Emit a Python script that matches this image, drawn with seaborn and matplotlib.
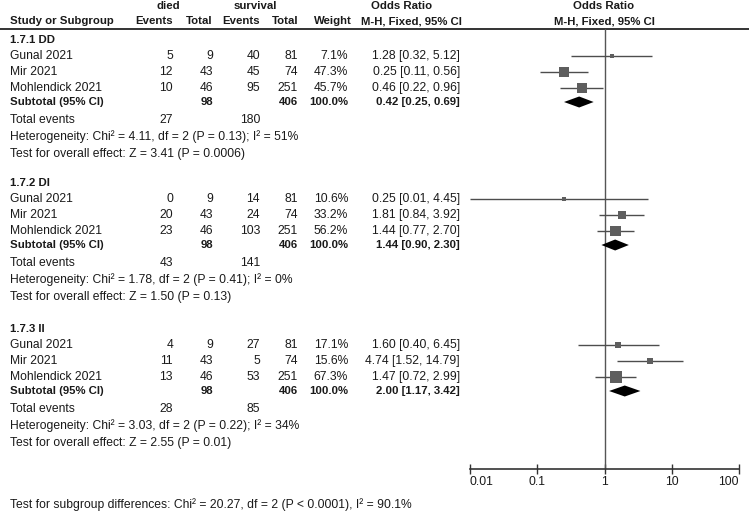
import matplotlib

matplotlib.use("Agg")
import matplotlib.pyplot as plt
import numpy as np
import pandas as pd
import seaborn as sns

# ---- data ----
group_names = ["1.7.1 DD", "1.7.2 DI", "1.7.3 II"]
study_names = ["Gunal 2021", "Mir 2021", "Mohlendick 2021"]
died_events = [[5, 12, 10], [0, 20, 23], [4, 11, 13]]
died_total = [9, 43, 46]
surv_events = [[40, 45, 95], [14, 24, 103], [27, 5, 53]]
surv_total = [81, 74, 251]
weights = [[7.1, 47.3, 45.7], [10.6, 33.2, 56.2], [17.1, 15.6, 67.3]]
odds = [[1.28, 0.25, 0.46], [0.25, 1.81, 1.44], [1.60, 4.74, 1.47]]
ci_low = [[0.32, 0.11, 0.22], [0.01, 0.84, 0.77], [0.40, 1.52, 0.72]]
ci_high = [[5.12, 0.56, 0.96], [4.45, 3.92, 2.70], [6.45, 14.79, 2.99]]
sub_died_total = [98, 98, 98]
sub_surv_total = [406, 406, 406]
sub_odds = [0.42, 1.44, 2.00]
sub_low = [0.25, 0.90, 1.17]
sub_high = [0.69, 2.30, 3.42]
total_died = [27, 43, 28]
total_surv = [180, 141, 85]
het_text = [
    "Heterogeneity: Chi² = 4.11, df = 2 (P = 0.13); I² = 51%",
    "Heterogeneity: Chi² = 1.78, df = 2 (P = 0.41); I² = 0%",
    "Heterogeneity: Chi² = 3.03, df = 2 (P = 0.22); I² = 34%",
]
effect_text = [
    "Test for overall effect: Z = 3.41 (P = 0.0006)",
    "Test for overall effect: Z = 1.50 (P = 0.13)",
    "Test for overall effect: Z = 2.55 (P = 0.01)",
]
footer_text = "Test for subgroup differences: Chi² = 20.27, df = 2 (P < 0.0001), I² = 90.1%"
tick_values = [0.01, 0.1, 1, 10, 100]
tick_labels = ["0.01", "0.1", "1", "10", "100"]

# ---- layout (pixels, top-left origin) ----
W, H = 749, 511
group_top = [40, 183, 329]
row_offsets = [16, 32, 48]
sub_off, tot_off, het_off, eff_off = 62, 80, 97, 114
col_died_ev, col_died_tot, col_surv_ev, col_surv_tot, col_weight, col_or = 173, 213, 260, 298, 348, 460
left_x = 10
plot_left, plot_right, header_line, axis_y = 470, 739, 29, 469

TEXT = "#1a1a1a"
FS = 8.75
FS_BOLD = 8.2

sns.set_theme(style="white")
plt.rcParams["font.family"] = ["Liberation Sans", "DejaVu Sans"]

rows = []
for g, gname in enumerate(group_names):
    for i, sname in enumerate(study_names):
        rows.append({
            "group": gname, "study": sname, "y": group_top[g] + row_offsets[i],
            "or": odds[g][i], "lo": ci_low[g][i], "hi": ci_high[g][i], "weight": weights[g][i],
        })
studies = pd.DataFrame(rows)

fig = plt.figure(figsize=(W / 100, H / 100), dpi=100)
tab = fig.add_axes([0, 0, 1, 1])
tab.set_xlim(0, W)
tab.set_ylim(H, 0)
tab.axis("off")


def put(x, y, s, ha="left", bold=False):
    tab.text(x, y, s, ha=ha, va="center", fontsize=FS_BOLD if bold else FS, color=TEXT,
             fontweight="bold" if bold else "normal")


# headers
put(168, 6, "died", ha="center", bold=True)
put(255, 6, "survival", ha="center", bold=True)
put(402, 6, "Odds Ratio", ha="center", bold=True)
put(604, 6, "Odds Ratio", ha="center", bold=True)
put(left_x, 21, "Study or Subgroup", bold=True)
put(col_died_ev, 21, "Events", ha="right", bold=True)
put(col_died_tot, 21, "Total", ha="right", bold=True)
put(col_surv_ev, 21, "Events", ha="right", bold=True)
put(col_surv_tot, 21, "Total", ha="right", bold=True)
put(352, 21, "Weight", ha="right", bold=True)
put(361, 21, "M-H, Fixed, 95% CI", bold=True)
put(604, 21, "M-H, Fixed, 95% CI", ha="center", bold=True)
tab.plot([0, W], [header_line, header_line], color="#333333", lw=1.4)

for g, gname in enumerate(group_names):
    top = group_top[g]
    put(left_x, top, gname, bold=True)
    for i, sname in enumerate(study_names):
        y = top + row_offsets[i]
        put(left_x, y, sname)
        put(col_died_ev, y, str(died_events[g][i]), ha="right")
        put(col_died_tot, y, str(died_total[i]), ha="right")
        put(col_surv_ev, y, str(surv_events[g][i]), ha="right")
        put(col_surv_tot, y, str(surv_total[i]), ha="right")
        put(col_weight, y, f"{weights[g][i]:.1f}%", ha="right")
        put(col_or, y, f"{odds[g][i]:.2f} [{ci_low[g][i]:.2f}, {ci_high[g][i]:.2f}]", ha="right")
    y = top + sub_off
    put(left_x, y, "Subtotal (95% CI)", bold=True)
    put(col_died_tot, y, str(sub_died_total[g]), ha="right", bold=True)
    put(col_surv_tot, y, str(sub_surv_total[g]), ha="right", bold=True)
    put(col_weight, y, "100.0%", ha="right", bold=True)
    put(col_or, y, f"{sub_odds[g]:.2f} [{sub_low[g]:.2f}, {sub_high[g]:.2f}]", ha="right", bold=True)
    y = top + tot_off
    put(left_x, y, "Total events")
    put(col_died_ev, y, str(total_died[g]), ha="right")
    put(col_surv_ev, y, str(total_surv[g]), ha="right")
    put(left_x, top + het_off, het_text[g])
    put(left_x, top + eff_off, effect_text[g])

put(left_x, 505, footer_text)

# ---- forest panel ----
ax = fig.add_axes([plot_left / W, (H - axis_y) / H, (plot_right - plot_left) / W, (axis_y - header_line) / H])
ax.set_facecolor("none")
ax.set_xscale("log")
ax.set_xlim(tick_values[0], tick_values[-1])
ax.set_ylim(axis_y, header_line)
ax.axvline(1, color="#555555", lw=1.0, zorder=1)

ax.hlines(studies["y"], studies["lo"], studies["hi"], color="#4d4d4d", lw=1.0, zorder=2)
size_map = {w: (1.45 * np.sqrt(w) * 0.72) ** 2 for w in studies["weight"]}
sns.scatterplot(data=studies, x="or", y="y", size="weight", sizes=size_map, marker="s",
                color="#5e5e5e", edgecolor="none", legend=False, ax=ax, zorder=3)

half_h = 5.5
for g in range(len(group_names)):
    yc = group_top[g] + sub_off
    ax.fill([sub_low[g], sub_odds[g], sub_high[g], sub_odds[g]],
            [yc, yc - half_h, yc, yc + half_h], color="black", lw=0, zorder=3)

for side in ["left", "right", "top"]:
    ax.spines[side].set_visible(False)
ax.spines["bottom"].set_color("#333333")
ax.spines["bottom"].set_linewidth(1.2)
ax.set_yticks([])
ax.set_xticks(tick_values)
ax.set_xticklabels(tick_labels)
ax.minorticks_off()
ax.tick_params(axis="x", direction="inout", length=7, width=1.0, color="#333333",
               labelsize=FS, labelcolor=TEXT, pad=1.5, bottom=True)
labels = ax.get_xticklabels()
labels[0].set_ha("left")
labels[-1].set_ha("right")
ax.set_xlabel("")
ax.set_ylabel("")

fig.savefig("out.png", dpi=100)
